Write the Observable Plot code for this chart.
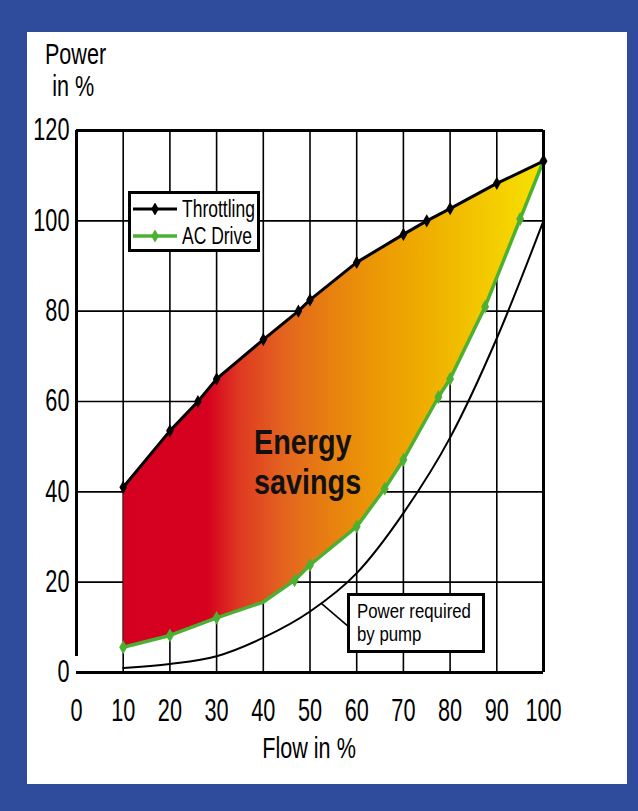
<!DOCTYPE html>
<html><head><meta charset="utf-8">
<script src="https://cdn.jsdelivr.net/npm/d3@7"></script>
<script src="https://cdn.jsdelivr.net/npm/@observablehq/plot@0.6"></script>
<style>
html,body{margin:0;padding:0;}
body{width:638px;height:811px;background:#2f4b9b;position:relative;overflow:hidden;
 font-family:"Liberation Sans",Arial,sans-serif;color:#000;}
#panel{position:absolute;left:27px;top:32px;width:600px;height:752px;background:#fff;}
#chart{position:absolute;left:0;top:0;}
.lbl{position:absolute;font-size:30px;line-height:32px;text-align:center;white-space:nowrap;}
.cond{display:inline-block;transform:scaleX(0.72);transform-origin:50% 50%;}
.condL{display:inline-block;transform-origin:0 50%;white-space:nowrap;}
#ylab{left:6px;top:6px;width:80px;}
#xlab{left:212px;top:700px;width:140px;}
#legend{position:absolute;left:101px;top:159px;width:126px;height:55px;border:3px solid #000;background:#fff;box-sizing:content-box;}
#legend .row{position:absolute;left:2px;height:26px;display:flex;align-items:center;font-size:23px;}
#legend svg{margin:0 5px 0 0;}
#pumpbox{position:absolute;left:320px;top:561px;width:138px;height:60px;border:3px solid #000;background:#fff;
 font-size:21px;line-height:23px;padding:3px 0 0 7px;box-sizing:border-box;}
</style></head>
<body>
<div id="panel">
  <div id="chart"></div>
  <div id="ylab" class="lbl"><span class="cond">Power</span><br><span class="cond">in %</span></div>
  <div id="xlab" class="lbl"><span class="cond">Flow in %</span></div>
  <div id="legend"></div>
  <div id="pumpbox"></div>
</div>
<script>
// ---- data ----
const flowTicks = [0,10,20,30,40,50,60,70,80,90,100];
const powerTicks = [0,20,40,60,80,100,120];
const gridFlow = [10,20,30,40,50,60,70,80,90];
const gridPower = [20,40,60,80,100];

const throttlingFlow  = [10, 20, 26, 30, 40, 47.5, 50, 60, 70, 75, 80, 90, 100];
const throttlingPower = [41, 53.5, 60, 65, 73.7, 80, 82.5, 90.8, 97, 100, 102.7, 108.3, 113.2];

const acDriveFlow   = [10, 20, 30, 40, 46.7, 50, 60, 66, 70, 77.5, 80, 87.5, 95, 100];
const acDrivePower  = [5.6, 8.2, 12.1, 15.6, 20.4, 23.8, 32.3, 40.7, 47.1, 61, 65, 81, 100.4, 113.3];
const acDriveMarker = [1, 1, 1, 0, 1, 1, 1, 1, 1, 1, 1, 1, 1, 1];

const pumpFlow  = [10, 20, 30, 40, 50, 60, 70, 80, 90, 100];
const pumpPower = [1, 1.9, 3.6, 7.7, 13.5, 22, 35.3, 52, 74, 100];

const seriesNames = ["Throttling", "AC Drive"];
const savingsLabel = "Energy\nsavings";
const pumpLabelLines = ["Power required", "by pump"];

// gradient of the savings area (flow position -> colour)
const gradFlow  = [10, 28, 35, 45, 55, 65, 75, 85, 100];
const gradColor = ["#d5001f","#d6001f","#df3a22","#e3661f","#e8820f","#ec9a05","#efae00","#f2c400","#f7e200"];

// ---- build tables ----
const throttling = throttlingFlow.map((f,i)=>({flow:f, power:throttlingPower[i]}));
const acDrive = acDriveFlow.map((f,i)=>({flow:f, power:acDrivePower[i], marker:acDriveMarker[i]}));
const pump = pumpFlow.map((f,i)=>({flow:f, power:pumpPower[i]}));
const savingsPolygon = [...throttling, ...acDrive.slice().reverse()];
const savingsText = [{flow:38, power:46.8, text:savingsLabel}];
const pumpLeader = [{x1:52.3, y1:15.4, x2:58, y2:10.4}];

const GREEN = "#4cb033";
const FONT = '"Liberation Sans",Arial,sans-serif';
const plot = Plot.plot({
  width:600, height:752,
  marginLeft:49, marginRight:84, marginTop:98, marginBottom:112,
  x:{domain:[0,100]}, y:{domain:[0,120]},
  style:{background:"transparent", fontFamily:FONT, fontSize:"31px", color:"#000", overflow:"visible"},
  marks:[
    Plot.ruleX(gridFlow, {stroke:"#000", strokeWidth:1.6}),
    Plot.ruleY(gridPower, {stroke:"#000", strokeWidth:1.6}),
    Plot.line(savingsPolygon, {x:"flow", y:"power", fill:"url(#savingsGrad)", stroke:"none", curve:"linear"}),
    Plot.line(pump, {x:"flow", y:"power", stroke:"#000", strokeWidth:2, curve:"monotone-x"}),
    Plot.link(pumpLeader, {x1:"x1", y1:"y1", x2:"x2", y2:"y2", stroke:"#000", strokeWidth:1.6}),
    Plot.line(acDrive, {x:"flow", y:"power", stroke:GREEN, strokeWidth:3.5}),
    Plot.dot(acDrive.filter(d=>d.marker), {x:"flow", y:"power", symbol:"diamond", r:4.2, fill:GREEN, stroke:"none"}),
    Plot.line(throttling, {x:"flow", y:"power", stroke:"#000", strokeWidth:3}),
    Plot.dot(throttling, {x:"flow", y:"power", symbol:"diamond", r:4, fill:"#000", stroke:"none"}),
    Plot.ruleY([0, 120], {stroke:"#000", strokeWidth:3}),
    Plot.ruleX([100], {stroke:"#000", strokeWidth:3}),
    Plot.ruleX([0], {y1:0, y2:120, insetTop:-16, stroke:"#000", strokeWidth:3}),
    Plot.text(savingsText, {x:"flow", y:"power", text:"text", textAnchor:"start", fontSize:36, fontWeight:"bold", lineHeight:1.12, fill:"#111"}),
    Plot.axisX(flowTicks, {tickSize:0, tickPadding:26, label:null}),
    Plot.axisY(powerTicks, {tickSize:0, tickPadding:7, label:null})
  ]
});
document.getElementById("chart").appendChild(plot);

// condense SVG text horizontally (the reference uses a condensed face)
d3.select(plot).selectAll("text").each(function(){
  const t = d3.select(this);
  const s = this.closest('[font-weight="bold"]') ? 0.8 : 0.7;
  const x = +t.attr("x") || 0, y = +t.attr("y") || 0;
  const T = t.attr("transform") || "";
  t.attr("transform", `${T} translate(${x},${y}) scale(${s},1) translate(${-x},${-y})`);
});

// gradient defs, mapped through the x scale
const xs = plot.scale("x");
const defs = d3.select(plot).insert("defs", ":first-child");
const lg = defs.append("linearGradient").attr("id","savingsGrad").attr("gradientUnits","userSpaceOnUse")
  .attr("x1", xs.apply(gradFlow[0])).attr("x2", xs.apply(gradFlow[gradFlow.length-1])).attr("y1",0).attr("y2",0);
const span = gradFlow[gradFlow.length-1]-gradFlow[0];
gradFlow.forEach((f,i)=>lg.append("stop").attr("offset", (f-gradFlow[0])/span).attr("stop-color", gradColor[i]));

// legend
const leg = d3.select("#legend");
[["#000",3],[GREEN,3.5]].forEach(([c,w],i)=>{
  const row = leg.append("div").attr("class","row").style("top", (i===0?2:29)+"px");
  const s = row.append("svg").attr("width",44).attr("height",12);
  s.append("line").attr("x1",0).attr("x2",44).attr("y1",6).attr("y2",6).attr("stroke",c).attr("stroke-width",w);
  s.append("path").attr("d", d3.symbol(d3.symbolDiamond, 50)()).attr("transform","translate(22,6)").attr("fill",c);
  row.append("span").attr("class","condL").style("transform","scaleX(0.76)").text(seriesNames[i]);
});

// pump annotation box
const pb = d3.select("#pumpbox");
pumpLabelLines.forEach(l=>pb.append("div").append("span").attr("class","condL").style("transform","scaleX(0.8)").text(l));
</script>
</body></html>
